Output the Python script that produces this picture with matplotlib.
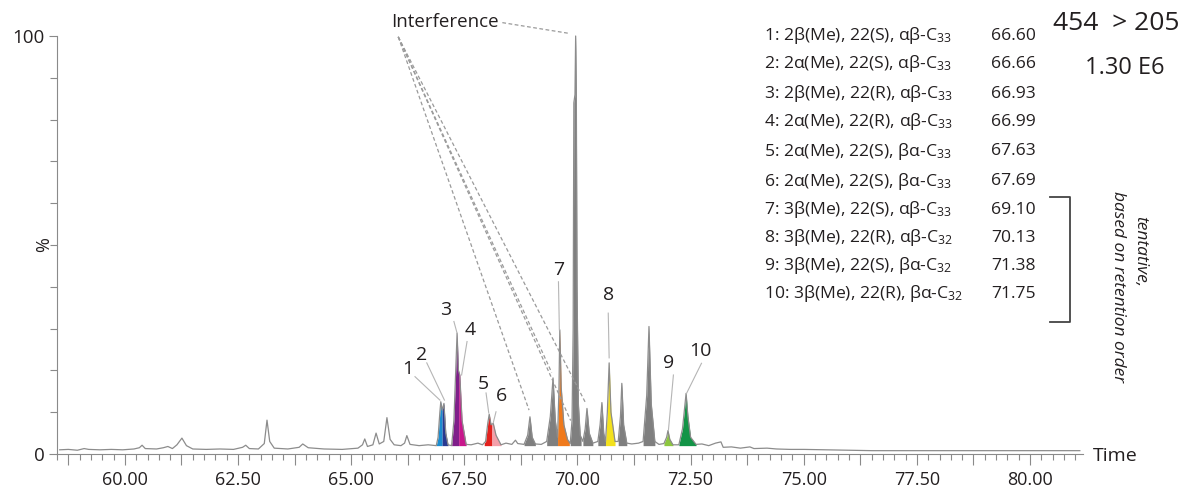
import numpy as np
import matplotlib.pyplot as plt
from matplotlib.ticker import MultipleLocator, FuncFormatter
from matplotlib.lines import Line2D

plt.rcParams['font.family'] = ['Open Sans', 'DejaVu Sans']
plt.rcParams['mathtext.default'] = 'regular'

# chromatogram trace: retention time (min), intensity (%)
trace_t = [58.56, 58.75, 58.95, 59.10, 59.20, 59.45, 59.70, 59.95, 60.20, 60.32,
           60.38, 60.45, 60.70, 60.85, 60.95, 61.05, 61.15, 61.26, 61.36, 61.50,
           61.80, 62.10, 62.40, 62.60, 62.67, 62.75, 62.95, 63.08, 63.14, 63.20,
           63.30, 63.60, 63.85, 63.93, 64.05, 64.40, 64.80, 65.15, 65.25, 65.30,
           65.36, 65.48, 65.55, 65.62, 65.72, 65.79, 65.86, 65.95, 66.10, 66.18,
           66.23, 66.30, 66.50, 66.70, 66.88, 66.92, 66.96, 66.98, 67.01, 67.05,
           67.09, 67.14, 67.22, 67.27, 67.31, 67.34, 67.37, 67.40, 67.45, 67.54,
           67.65, 67.80, 67.90, 67.97, 68.02, 68.05, 68.09, 68.14, 68.20, 68.31,
           68.42, 68.55, 68.63, 68.68, 68.82, 68.90, 68.95, 69.00, 69.07, 69.20,
           69.32, 69.40, 69.46, 69.51, 69.56, 69.59, 69.61, 69.64, 69.70, 69.78,
           69.84, 69.88, 69.905, 69.92, 69.945, 69.96, 69.975, 69.99, 70.02, 70.06,
           70.12, 70.17, 70.21, 70.26, 70.34, 70.45, 70.50, 70.54, 70.58, 70.62,
           70.66, 70.70, 70.74, 70.83, 70.90, 70.95, 70.98, 71.02, 71.09, 71.20,
           71.35, 71.45, 71.53, 71.58, 71.63, 71.71, 71.80, 71.91, 71.97, 72.00,
           72.04, 72.11, 72.24, 72.32, 72.40, 72.44, 72.50, 72.62, 72.75, 72.90,
           73.05, 73.17, 73.22, 73.40, 73.60, 73.81, 73.90, 74.19, 74.40, 74.70,
           75.00, 75.50, 76.00, 76.50, 77.50, 78.50, 79.50, 80.50, 81.10]
trace_i = [1.0, 1.1, 0.9, 1.3, 1.1, 1.0, 1.1, 1.0, 1.2, 1.5,
           2.1, 1.3, 1.2, 1.5, 1.8, 1.3, 2.2, 3.8, 2.0, 1.2,
           1.1, 1.2, 1.1, 1.6, 2.1, 1.3, 1.2, 2.5, 8.1, 3.0,
           1.4, 1.2, 1.6, 2.4, 1.5, 1.2, 1.1, 1.4, 2.2, 3.6,
           1.8, 2.2, 5.0, 2.4, 3.0, 8.7, 3.5, 2.2, 2.0, 2.6,
           4.4, 2.3, 2.0, 2.2, 2.0, 4.0, 10.0, 12.5, 10.5, 12.1,
           5.0, 2.2, 2.0, 8.0, 20.0, 28.9, 20.0, 18.9, 8.0, 2.3,
           2.2, 2.6, 2.2, 3.0, 7.5, 9.5, 7.0, 7.3, 4.5, 2.2,
           2.6, 2.3, 3.3, 2.5, 2.3, 4.5, 8.9, 4.0, 2.4, 2.3,
           3.0, 9.0, 18.2, 8.0, 4.0, 15.0, 29.7, 16.0, 7.0, 3.5,
           2.5, 8.0, 30.0, 84.0, 86.0, 100.0, 85.0, 40.0, 12.0, 4.5,
           3.0, 6.0, 10.9, 5.0, 2.6, 3.0, 7.0, 12.3, 5.0, 3.0,
           10.0, 21.8, 10.0, 3.0, 3.0, 9.0, 16.9, 7.0, 2.6, 2.4,
           2.6, 3.0, 14.0, 30.5, 12.0, 3.0, 2.3, 2.5, 4.0, 5.6,
           3.5, 2.2, 2.2, 6.0, 14.5, 9.0, 4.0, 2.3, 2.4, 2.0,
           2.6, 2.9, 1.6, 1.7, 1.4, 1.7, 1.3, 1.4, 1.2, 1.1,
           1.1, 1.0, 0.9, 0.8, 0.8, 0.8, 0.8, 0.8, 0.8]

# numbered compounds: fill window and colour
peak_ids = ['1', '2', '3', '4', '5', '6', '7', '8', '9', '10']
peak_start = [66.88, 67.01, 67.22, 67.375, 67.94, 68.11, 69.56, 70.62, 71.91, 72.24]
peak_end = [67.01, 67.14, 67.375, 67.54, 68.11, 68.31, 69.82, 70.83, 72.11, 72.62]
peak_colors = ['#1c8ccf', '#283891', '#7f1f8a', '#c8168c', '#e3221e',
               '#f4a0aa', '#f07a1c', '#f3e11d', '#8dc63f', '#139447']

# unnumbered (grey) peaks
gray_start = [68.82, 69.32, 69.84, 70.12, 70.45, 70.90, 71.45]
gray_end = [69.07, 69.56, 70.08, 70.34, 70.62, 71.09, 71.71]

# label text position and leader line (time, %)
label_xy = [(66.24, 20.3), (66.56, 23.7), (67.09, 34.4), (67.64, 29.7), (67.93, 16.7),
            (68.32, 13.9), (69.58, 44.0), (70.68, 38.0), (72.01, 21.8), (72.71, 24.7)]
leader = [((66.41, 18.5), (66.96, 12.9)), ((66.67, 21.8), (67.06, 12.9)),
          ((67.27, 31.7), (67.34, 28.9)), ((67.56, 26.9), (67.44, 18.9)),
          ((67.98, 14.6), (68.04, 9.8)), ((68.20, 10.1), (68.14, 7.5)),
          ((69.58, 41.2), (69.60, 29.7)), ((70.68, 33.7), (70.70, 23.0)),
          ((72.12, 18.9), (72.01, 5.7)), ((72.74, 21.7), (72.41, 14.5))]

compound_names = ['1: 2β(Me), 22(S), αβ-C$_{33}$', '2: 2α(Me), 22(S), αβ-C$_{33}$',
                  '3: 2β(Me), 22(R), αβ-C$_{33}$', '4: 2α(Me), 22(R), αβ-C$_{33}$',
                  '5: 2α(Me), 22(S), βα-C$_{33}$', '6: 2α(Me), 22(S), βα-C$_{33}$',
                  '7: 3β(Me), 22(S), αβ-C$_{33}$', '8: 3β(Me), 22(R), αβ-C$_{32}$',
                  '9: 3β(Me), 22(S), βα-C$_{32}$', '10: 3β(Me), 22(R), βα-C$_{32}$']
compound_rt = ['66.60', '66.66', '66.93', '66.99', '67.63',
               '67.69', '69.10', '70.13', '71.38', '71.75']

# interference pointers
interf_targets = [(68.93, 10.5), (69.43, 19.5), (69.85, 8.0), (70.19, 12.0)]

W, H = 1195, 491
fig = plt.figure(figsize=(W / 100, H / 100), dpi=100)
ax = fig.add_axes([57 / W, (H - 454) / H, (1083 - 57) / W, (454 - 36) / H])

txt = '#231f20'
axc = '#8a8a8a'

tt = np.array(trace_t)
ii = np.array(trace_i)

for a, b in zip(gray_start, gray_end):
    xs = np.linspace(a, b, 300)
    ax.fill_between(xs, 2.0, np.interp(xs, tt, ii), color='#7f7f7f', lw=0)
for a, b, c in zip(peak_start, peak_end, peak_colors):
    xs = np.linspace(a, b, 300)
    ax.fill_between(xs, 2.0, np.interp(xs, tt, ii), color=c, lw=0)

ax.plot(tt, ii, color='#8c8c8c', lw=0.9, clip_on=False)

for lab, (x, y), (p0, p1) in zip(peak_ids, label_xy, leader):
    ax.plot([p0[0], p1[0]], [p0[1], p1[1]], color='#b5b5b5', lw=0.8)
    ax.text(x, y, lab, ha='center', va='center', fontsize=14, color=txt)

# interference annotation
ax.text(67.08, 103.4, 'Interference', ha='center', va='center', fontsize=13.5,
        color=txt, clip_on=False)
ax.plot([68.34, 69.83], [103.2, 100.6], color='#9a9a9a', lw=0.9, ls=(0, (3, 2)),
        clip_on=False)
for x, y in interf_targets:
    ax.plot([66.04, x], [99.8, y], color='#9a9a9a', lw=0.9, ls=(0, (3, 2)),
            clip_on=False)

ax.set_xlim(58.5, 81.17)
ax.set_ylim(0, 100)
for s in ['top', 'right']:
    ax.spines[s].set_visible(False)
for s in ['left', 'bottom']:
    ax.spines[s].set_color(axc)
    ax.spines[s].set_linewidth(0.8)

ax.xaxis.set_major_locator(MultipleLocator(1.25))
ax.xaxis.set_minor_locator(MultipleLocator(0.25))
ax.xaxis.set_major_formatter(FuncFormatter(
    lambda v, p: f'{v:.2f}' if abs(v / 2.5 - round(v / 2.5)) < 1e-6 else ''))
ax.set_yticks([0, 100])
ax.yaxis.set_minor_locator(MultipleLocator(10))
ax.tick_params(axis='x', which='major', length=8, width=0.8, color=axc,
               labelsize=13, labelcolor=txt, pad=4)
ax.tick_params(axis='x', which='minor', length=4, width=0.8, color=axc)
ax.tick_params(axis='y', which='major', length=6, width=0.8, color=axc,
               labelsize=13.5, labelcolor=txt, pad=3)
ax.tick_params(axis='y', which='minor', length=5, width=0.8, color=axc)

fig.text(44 / W, 1 - 245 / H, '%', rotation=90, ha='center', va='center',
         fontsize=13, color=txt)
fig.text(1093 / W, 1 - 456 / H, 'Time', ha='left', va='center', fontsize=14, color=txt)

# compound table
row_y = [36, 64, 94, 122, 151, 181, 210, 238, 266, 294]
for name, rt, y in zip(compound_names, compound_rt, row_y):
    fig.text(764 / W, 1 - y / H, name, ha='left', va='center', fontsize=12.6, color=txt)
    fig.text(991 / W, 1 - y / H, rt, ha='left', va='center', fontsize=12.6, color=txt)

fig.text(1116 / W, 1 - 24 / H, '454  > 205', ha='center', va='center',
         fontsize=19, color=txt)
fig.text(1125 / W, 1 - 68 / H, '1.30 E6', ha='center', va='center',
         fontsize=17, color=txt)

fig.add_artist(Line2D([1050 / W, 1070 / W, 1070 / W, 1050 / W],
                      [1 - 197 / H, 1 - 197 / H, 1 - 322 / H, 1 - 322 / H],
                      color='#444444', lw=1.3))
fig.text(1140 / W, 1 - 252 / H, 'tentative,', rotation=-90, style='italic',
         ha='center', va='center', fontsize=12.5, color=txt)
fig.text(1118 / W, 1 - 287 / H, 'based on retention order', rotation=-90,
         style='italic', ha='center', va='center', fontsize=12.5, color=txt)

fig.savefig('out.png', dpi=100)
